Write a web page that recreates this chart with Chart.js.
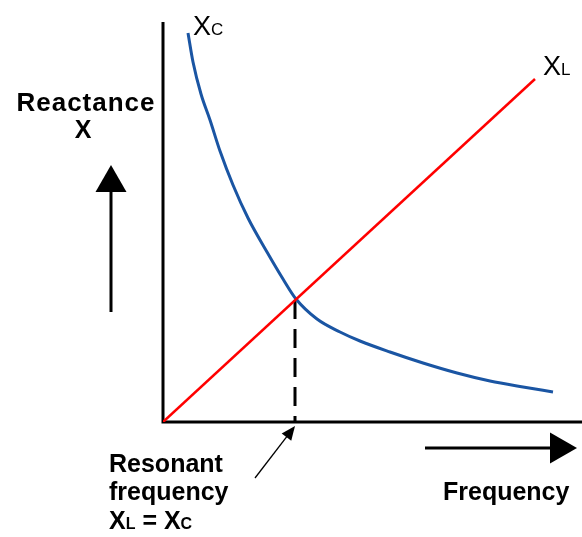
<!DOCTYPE html>
<html>
<head>
<meta charset="utf-8">
<script src="https://cdn.jsdelivr.net/npm/chart.js@4"></script>
<style>
  body { margin: 0; background: #fff; }
  #wrap { width: 582px; height: 537px; }
</style>
</head>
<body>
<div id="wrap"><canvas id="chart" width="582" height="537"></canvas></div>
<script>
// frequency / reactance values (arbitrary units)
const xlFreq = [0, 372];
const xlReact = [0, 343];
const xcFreq = [25, 30, 38, 47, 57, 70, 85, 104, 120, 133, 154, 177, 197, 227, 260, 294, 327, 360, 390];
const xcReact = [389, 360, 328, 302, 271, 237, 204, 170, 143, 123, 103, 90, 81, 70, 59, 49, 41, 35, 30];
const resonantFreq = 132;
const resonantReact = 122;

const toPoints = (xs, ys) => xs.map((x, i) => ({ x: x, y: ys[i] }));

function arrowHead(ctx, tipX, tipY, angle, len, half) {
    ctx.save();
    ctx.translate(tipX, tipY);
    ctx.rotate(angle);
    ctx.beginPath();
    ctx.moveTo(0, 0);
    ctx.lineTo(-len, -half);
    ctx.lineTo(-len, half);
    ctx.closePath();
    ctx.fill();
    ctx.restore();
}

// draws "X" + small letter, returns end x
function subLabel(ctx, x, y, big, small, bigFont, smallFont) {
    ctx.font = bigFont;
    ctx.fillText(big, x, y);
    x += ctx.measureText(big).width;
    ctx.font = smallFont;
    ctx.fillText(small, x, y);
    return x + ctx.measureText(small).width;
}

const decorations = {
    id: 'decorations',
    beforeDatasetsDraw(chart) {
        const ctx = chart.ctx;
        const a = chart.chartArea;
        ctx.save();
        ctx.strokeStyle = '#000';
        ctx.lineWidth = 3;
        ctx.beginPath();
        ctx.moveTo(a.left, a.top + 2);
        ctx.lineTo(a.left, a.bottom);
        ctx.lineTo(a.right, a.bottom);
        ctx.stroke();
        ctx.restore();
    },
    afterDatasetsDraw(chart) {
        const ctx = chart.ctx;
        const xs = chart.scales.x;
        ctx.save();
        ctx.fillStyle = '#000';
        ctx.strokeStyle = '#000';

        // vertical arrow
        ctx.lineWidth = 3;
        ctx.beginPath();
        ctx.moveTo(111, 312);
        ctx.lineTo(111, 190);
        ctx.stroke();
        arrowHead(ctx, 111, 165, -Math.PI / 2, 27, 15.5);

        // horizontal arrow
        ctx.beginPath();
        ctx.moveTo(425, 448);
        ctx.lineTo(552, 448);
        ctx.stroke();
        arrowHead(ctx, 577, 448, 0, 27, 15.5);

        // pointer to resonant frequency
        const rx = xs.getPixelForValue(resonantFreq);
        const tipX = rx, tipY = 426;
        const ang = Math.atan2(tipY - 478, tipX - 255);
        ctx.lineWidth = 1.3;
        ctx.beginPath();
        ctx.moveTo(255, 478);
        ctx.lineTo(tipX - 10 * Math.cos(ang), tipY - 10 * Math.sin(ang));
        ctx.stroke();
        arrowHead(ctx, tipX, tipY, ang, 14, 6);

        // texts
        ctx.textBaseline = 'alphabetic';
        ctx.textAlign = 'left';
        const bold = 'bold 25px "Liberation Sans", Arial, sans-serif';
        const boldSmall = 'bold 16px "Liberation Sans", Arial, sans-serif';
        const reg = '27px "Liberation Sans", Arial, sans-serif';
        const regSmall = '17px "Liberation Sans", Arial, sans-serif';

        ctx.font = 'bold 26px "Liberation Sans", Arial, sans-serif';
        ctx.letterSpacing = '1px';
        ctx.textAlign = 'center';
        ctx.fillText('Reactance', 86, 111);
        ctx.letterSpacing = '0px';
        ctx.font = bold;
        ctx.fillText('X', 83, 138);
        ctx.textAlign = 'left';
        ctx.fillText('Frequency', 443, 500);
        ctx.fillText('Resonant', 109, 472);
        ctx.fillText('frequency', 109, 500);
        let x = subLabel(ctx, 109, 529, 'X', 'L', bold, boldSmall);
        ctx.font = bold;
        ctx.fillText(' = ', x, 529);
        x += ctx.measureText(' = ').width;
        subLabel(ctx, x, 529, 'X', 'C', bold, boldSmall);

        subLabel(ctx, 193, 35, 'X', 'C', reg, regSmall);
        subLabel(ctx, 543, 75, 'X', 'L', reg, regSmall);
        ctx.restore();
    }
};

new Chart(document.getElementById('chart'), {
    type: 'scatter',
    data: {
        datasets: [
            {
                label: 'XL',
                data: toPoints(xlFreq, xlReact),
                showLine: true,
                borderColor: '#ff0000',
                borderWidth: 2.5,
                pointRadius: 0
            },
            {
                label: 'XC',
                data: toPoints(xcFreq, xcReact),
                showLine: true,
                borderColor: '#1a55a3',
                borderWidth: 3,
                pointRadius: 0,
                cubicInterpolationMode: 'monotone'
            },
            {
                label: 'resonance',
                data: [{ x: resonantFreq, y: resonantReact }, { x: resonantFreq, y: 0 }],
                showLine: true,
                borderColor: '#000',
                borderWidth: 3,
                borderDash: [19, 10],
                pointRadius: 0
            }
        ]
    },
    options: {
        responsive: false,
        animation: false,
        layout: { padding: { left: 163, top: 20, right: 0, bottom: 115 } },
        scales: {
            x: { type: 'linear', display: false, min: 0, max: 419 },
            y: { type: 'linear', display: false, min: 0, max: 402 }
        },
        plugins: {
            legend: { display: false },
            tooltip: { enabled: false }
        }
    },
    plugins: [decorations]
});
</script>
</body>
</html>
